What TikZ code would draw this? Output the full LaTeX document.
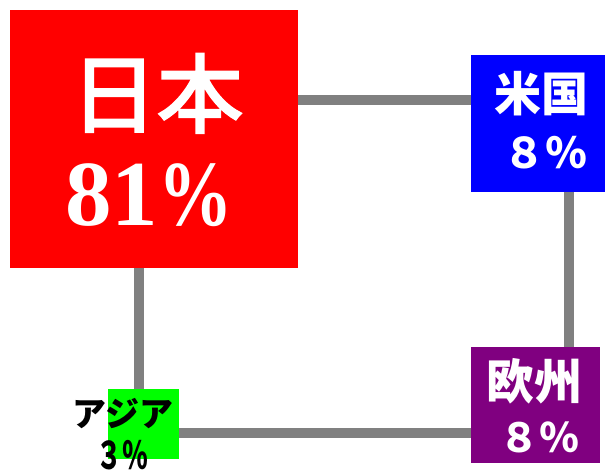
\documentclass[tikz,border=0pt]{standalone}
\usepackage{fontspec}
\newfontfamily\jpfont{Noto Sans CJK JP}
\newfontfamily\jpmed[FakeBold=3]{Noto Sans CJK JP}
\newfontfamily\serifnum{Liberation Serif}
\begin{document}
\begin{tikzpicture}[x=1pt,y=-1pt,
  box/.style={draw=none,inner sep=0pt,outer sep=0pt},
  conn/.style={color={rgb,255:red,128;green,128;blue,128},line width=10pt},
  wtxt/.style={text=white,inner sep=0pt,anchor=base},
  btxt/.style={text=black,inner sep=0pt,anchor=base}]
\useasboundingbox (0,0) rectangle (605,474);
% boxes
\node[box,fill=red,minimum width=288pt,minimum height=258pt] (jp) at (154,139) {};
\node[box,fill={rgb,255:red,0;green,0;blue,255},minimum width=134pt,minimum height=137pt] (us) at (538,123.5) {};
\node[box,fill={rgb,255:red,128;green,0;blue,128},minimum width=129pt,minimum height=116pt] (eu) at (535.5,405) {};
\node[box,fill={rgb,255:red,0;green,255;blue,0},minimum width=71pt,minimum height=70pt] (as) at (143.5,424) {};
% connectors
\draw[conn] (jp.east |- 0,100) -- (us.west |- 0,100);
\draw[conn] (us.south -| 569,0) -- (eu.north -| 569,0);
\draw[conn] (as.east |- 0,433) -- (eu.west |- 0,433);
\draw[conn] (jp.south -| 139,0) -- (as.north -| 139,0);
% texts
\node[wtxt] (jpname) at (157,126) {\jpmed\fontsize{86}{86}\selectfont 日本};
\node[wtxt] (jpval) at (149,225) {\serifnum\bfseries\fontsize{93}{93}\selectfont 81\scalebox{0.8}[1]{\%}};
\node[wtxt] (usname) at (541,111) {\jpfont\bfseries\fontsize{47}{47}\selectfont 米国};
\node[wtxt] (usval) at (545,168) {\jpfont\bfseries\fontsize{42}{42}\selectfont ８％};
\node[wtxt] (euname) at (534,399) {\jpfont\bfseries\fontsize{48}{48}\selectfont 欧州};
\node[wtxt] (euval) at (539,452) {\jpfont\bfseries\fontsize{40}{40}\selectfont ８％};
\node[btxt] (asname) at (123,426) {\jpfont\bfseries\fontsize{34}{34}\selectfont アジア};
\node[btxt] (asval) at (122,469) {\jpfont\bfseries\fontsize{38}{38}\selectfont\scalebox{0.68}[1]{３％}};
\end{tikzpicture}
\end{document}
